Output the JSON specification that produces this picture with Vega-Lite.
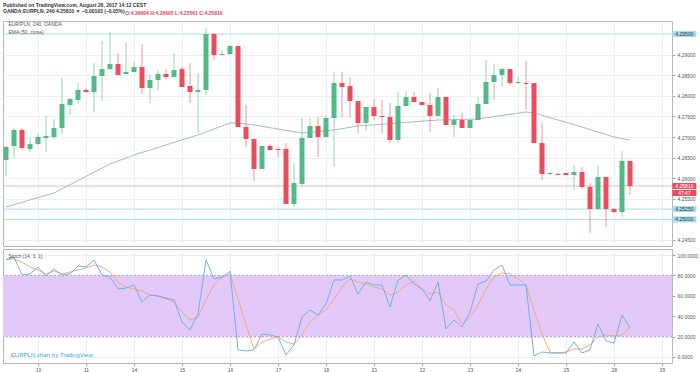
{
  "$schema": "https://vega.github.io/schema/vega-lite/v6.json",
  "background": "white",
  "padding": {"left": 2, "top": 2, "right": 2, "bottom": 1},
  "spacing": 1,
  "config": {
    "font": "Liberation Sans",
    "view": {"stroke": "#b4b8c0", "strokeWidth": 1},
    "scale": {"continuousPadding": 0},
    "axis": {"labelFont": "Liberation Sans", "labelColor": "#555", "tickColor": "#a0a4ac", "gridColor": "#eceff3", "domain": false, "title": null, "labelOverlap": false}
  },
  "title": {
    "text": "Published on TradingView.com, August 28, 2017 14:12 CEST",
    "subtitle": "OANDA:EURPLN, 240  4.25810 ▼ −0.00193 (−0.05%)",
    "anchor": "start",
    "frame": "group",
    "fontSize": 5,
    "fontWeight": "bold",
    "color": "#333",
    "subtitleFontSize": 5,
    "subtitleFontWeight": "bold",
    "subtitleColor": "#333",
    "subtitlePadding": 1.5,
    "offset": -3.5
  },
  "datasets": {
    "candles": [
      {"i":0,"open":4.26442,"high":4.26782,"low":4.26053,"close":4.26757},
      {"i":1,"open":4.26782,"high":4.27218,"low":4.26490,"close":4.27170},
      {"i":2,"open":4.27170,"high":4.27218,"low":4.26684,"close":4.26733},
      {"i":3,"open":4.26709,"high":4.26976,"low":4.26636,"close":4.26830},
      {"i":4,"open":4.26830,"high":4.27073,"low":4.26806,"close":4.27000},
      {"i":5,"open":4.26976,"high":4.27510,"low":4.26636,"close":4.27024},
      {"i":6,"open":4.27000,"high":4.27437,"low":4.26951,"close":4.27218},
      {"i":7,"open":4.27218,"high":4.28432,"low":4.27073,"close":4.27801},
      {"i":8,"open":4.27777,"high":4.27947,"low":4.27534,"close":4.27922},
      {"i":9,"open":4.27898,"high":4.28311,"low":4.27801,"close":4.28141},
      {"i":10,"open":4.28141,"high":4.28189,"low":4.28068,"close":4.28092},
      {"i":11,"open":4.28092,"high":4.28796,"low":4.27607,"close":4.28481},
      {"i":12,"open":4.28481,"high":4.29330,"low":4.27874,"close":4.28650},
      {"i":13,"open":4.28650,"high":4.29549,"low":4.28626,"close":4.28772},
      {"i":14,"open":4.28772,"high":4.29039,"low":4.28505,"close":4.28505},
      {"i":15,"open":4.28529,"high":4.29306,"low":4.28529,"close":4.28578},
      {"i":16,"open":4.28578,"high":4.28820,"low":4.28578,"close":4.28699},
      {"i":17,"open":4.28699,"high":4.29257,"low":4.28044,"close":4.28189},
      {"i":18,"open":4.28189,"high":4.28505,"low":4.27825,"close":4.28383},
      {"i":19,"open":4.28383,"high":4.28626,"low":4.28141,"close":4.28529},
      {"i":20,"open":4.28529,"high":4.28650,"low":4.28383,"close":4.28456},
      {"i":21,"open":4.28456,"high":4.29039,"low":4.28456,"close":4.28626},
      {"i":22,"open":4.28650,"high":4.28699,"low":4.28214,"close":4.28214},
      {"i":23,"open":4.28238,"high":4.28796,"low":4.27825,"close":4.28092},
      {"i":24,"open":4.28092,"high":4.28553,"low":4.27097,"close":4.28141},
      {"i":25,"open":4.28141,"high":4.29646,"low":4.28019,"close":4.29500},
      {"i":26,"open":4.29500,"high":4.29524,"low":4.28869,"close":4.28990},
      {"i":27,"open":4.28990,"high":4.29112,"low":4.28990,"close":4.29015},
      {"i":28,"open":4.29015,"high":4.29233,"low":4.28990,"close":4.29209},
      {"i":29,"open":4.29209,"high":4.29209,"low":4.27243,"close":4.27243},
      {"i":30,"open":4.27243,"high":4.27777,"low":4.26757,"close":4.26951},
      {"i":31,"open":4.26951,"high":4.26951,"low":4.25932,"close":4.26223},
      {"i":32,"open":4.26223,"high":4.26782,"low":4.26223,"close":4.26782},
      {"i":33,"open":4.26782,"high":4.26830,"low":4.26660,"close":4.26684},
      {"i":34,"open":4.26709,"high":4.26757,"low":4.26515,"close":4.26685},
      {"i":35,"open":4.26709,"high":4.26854,"low":4.25374,"close":4.25374},
      {"i":36,"open":4.25374,"high":4.26369,"low":4.25301,"close":4.25883},
      {"i":37,"open":4.25859,"high":4.27461,"low":4.25786,"close":4.26976},
      {"i":38,"open":4.26976,"high":4.27461,"low":4.26976,"close":4.27267},
      {"i":39,"open":4.27267,"high":4.27485,"low":4.26515,"close":4.27000},
      {"i":40,"open":4.27000,"high":4.27534,"low":4.27000,"close":4.27461},
      {"i":41,"open":4.27461,"high":4.28578,"low":4.26272,"close":4.28311},
      {"i":42,"open":4.28311,"high":4.28578,"low":4.27485,"close":4.28214},
      {"i":43,"open":4.28238,"high":4.28456,"low":4.27485,"close":4.27874},
      {"i":44,"open":4.27874,"high":4.27874,"low":4.27097,"close":4.27340},
      {"i":45,"open":4.27340,"high":4.27728,"low":4.27170,"close":4.27728},
      {"i":46,"open":4.27728,"high":4.27922,"low":4.27413,"close":4.27510},
      {"i":47,"open":4.27510,"high":4.27898,"low":4.27097,"close":4.27485},
      {"i":48,"open":4.27485,"high":4.27825,"low":4.26854,"close":4.26927},
      {"i":49,"open":4.26927,"high":4.28092,"low":4.26854,"close":4.27752},
      {"i":50,"open":4.27752,"high":4.28117,"low":4.27752,"close":4.27971},
      {"i":51,"open":4.27971,"high":4.28092,"low":4.27850,"close":4.27850},
      {"i":52,"open":4.27850,"high":4.27850,"low":4.27752,"close":4.27777},
      {"i":53,"open":4.27777,"high":4.28068,"low":4.27121,"close":4.27510},
      {"i":54,"open":4.27510,"high":4.28189,"low":4.27510,"close":4.27971},
      {"i":55,"open":4.27971,"high":4.27971,"low":4.27291,"close":4.27291},
      {"i":56,"open":4.27291,"high":4.27534,"low":4.27000,"close":4.27413},
      {"i":57,"open":4.27413,"high":4.27583,"low":4.27218,"close":4.27218},
      {"i":58,"open":4.27218,"high":4.27413,"low":4.27218,"close":4.27413},
      {"i":59,"open":4.27413,"high":4.27971,"low":4.27413,"close":4.27801},
      {"i":60,"open":4.27801,"high":4.28869,"low":4.27801,"close":4.28335},
      {"i":61,"open":4.28335,"high":4.28772,"low":4.27898,"close":4.28505},
      {"i":62,"open":4.28505,"high":4.28675,"low":4.28214,"close":4.28650},
      {"i":63,"open":4.28650,"high":4.28650,"low":4.28262,"close":4.28311},
      {"i":64,"open":4.28311,"high":4.28456,"low":4.28286,"close":4.28336},
      {"i":65,"open":4.28311,"high":4.28845,"low":4.27655,"close":4.28286},
      {"i":66,"open":4.28311,"high":4.28311,"low":4.26854,"close":4.26854},
      {"i":67,"open":4.26854,"high":4.27340,"low":4.25956,"close":4.26102},
      {"i":68,"open":4.26102,"high":4.26150,"low":4.26078,"close":4.26127},
      {"i":69,"open":4.26102,"high":4.26126,"low":4.26078,"close":4.26078},
      {"i":70,"open":4.26126,"high":4.26126,"low":4.26078,"close":4.26078},
      {"i":71,"open":4.26078,"high":4.26320,"low":4.25714,"close":4.26150},
      {"i":72,"open":4.26150,"high":4.26272,"low":4.25762,"close":4.25786},
      {"i":73,"open":4.25786,"high":4.25883,"low":4.24670,"close":4.25252},
      {"i":74,"open":4.25252,"high":4.26296,"low":4.25228,"close":4.26029},
      {"i":75,"open":4.26029,"high":4.26029,"low":4.24816,"close":4.25252},
      {"i":76,"open":4.25252,"high":4.25277,"low":4.25155,"close":4.25180},
      {"i":77,"open":4.25180,"high":4.26660,"low":4.25058,"close":4.26417},
      {"i":78,"open":4.26417,"high":4.26417,"low":4.25592,"close":4.25810}
    ],
    "ema": [
      {"i":0,"v":4.25301},{"i":6,"v":4.25641},{"i":13,"v":4.26345},{"i":16,"v":4.26563},
      {"i":24,"v":4.27049},{"i":28,"v":4.27340},{"i":29,"v":4.27340},{"i":31,"v":4.27291},
      {"i":37,"v":4.27097},{"i":41,"v":4.27170},{"i":44,"v":4.27267},{"i":49,"v":4.27340},
      {"i":54,"v":4.27413},{"i":59,"v":4.27437},{"i":65,"v":4.27607},{"i":66,"v":4.27583},
      {"i":72,"v":4.27243},{"i":76,"v":4.27000},{"i":78,"v":4.26927}
    ],
    "stoch": [
      {"i":0,"k":95.1,"d":96.1},{"i":1,"k":98.0,"d":96.1},{"i":2,"k":80.4,"d":93.1},{"i":3,"k":81.4,"d":88.2},
      {"i":4,"k":88.2,"d":85.3},{"i":5,"k":79.4,"d":81.4},{"i":6,"k":86.3,"d":84.3},{"i":7,"k":80.4,"d":81.4},
      {"i":8,"k":81.4,"d":83.3},{"i":9,"k":89.2,"d":85.3},{"i":10,"k":88.2,"d":87.3},{"i":11,"k":95.1,"d":90.2},
      {"i":12,"k":80.4,"d":88.2},{"i":13,"k":78.4,"d":83.3},{"i":14,"k":66.7,"d":73.5},{"i":15,"k":67.6,"d":68.6},
      {"i":16,"k":70.6,"d":66.7},{"i":17,"k":53.9,"d":64.7},{"i":18,"k":60.8,"d":60.8},{"i":19,"k":59.8,"d":59.8},
      {"i":20,"k":57.8,"d":56.9},{"i":21,"k":55.9,"d":53.9},{"i":22,"k":34.3,"d":44.1},{"i":23,"k":26.5,"d":36.3},
      {"i":24,"k":42.2,"d":39.2},{"i":25,"k":95.1,"d":55.9},{"i":26,"k":76.5,"d":70.6},{"i":27,"k":78.4,"d":78.4},
      {"i":28,"k":84.0,"d":81.4},{"i":29,"k":6.9,"d":56.9},{"i":30,"k":5.9,"d":31.4},{"i":31,"k":6.9,"d":7.8},
      {"i":32,"k":22.5,"d":14.7},{"i":33,"k":21.6,"d":17.6},{"i":34,"k":19.6,"d":19.6},{"i":35,"k":2.0,"d":14.7},
      {"i":36,"k":11.8,"d":12.7},{"i":37,"k":39.2,"d":21.6},{"i":38,"k":46.1,"d":34.3},{"i":39,"k":41.2,"d":41.2},
      {"i":40,"k":52.0,"d":46.1},{"i":41,"k":75.5,"d":56.9},{"i":42,"k":75.5,"d":68.6},{"i":43,"k":79.4,"d":76.5},
      {"i":44,"k":61.8,"d":73.5},{"i":45,"k":73.5,"d":71.6},{"i":46,"k":70.6,"d":68.6},{"i":47,"k":70.6,"d":66.7},
      {"i":48,"k":49.0,"d":60.8},{"i":49,"k":75.5,"d":63.7},{"i":50,"k":80.4,"d":70.6},{"i":51,"k":71.6,"d":74.5},
      {"i":52,"k":66.7,"d":66.7},{"i":53,"k":54.9,"d":61.8},{"i":54,"k":73.5,"d":63.7},{"i":55,"k":27.5,"d":51.0},
      {"i":56,"k":36.3,"d":46.1},{"i":57,"k":29.4,"d":32.4},{"i":58,"k":44.1,"d":39.2},{"i":59,"k":71.6,"d":51.0},
      {"i":60,"k":74.5,"d":66.7},{"i":61,"k":85.3,"d":78.4},{"i":62,"k":90.2,"d":82.4},{"i":63,"k":70.6,"d":81.4},
      {"i":64,"k":70.6,"d":76.5},{"i":65,"k":70.6,"d":70.6},{"i":66,"k":1.0,"d":46.1},{"i":67,"k":4.9,"d":22.5},
      {"i":68,"k":3.9,"d":4.9},{"i":69,"k":3.9,"d":3.9},{"i":70,"k":3.9,"d":4.9},{"i":71,"k":14.7,"d":7.8},
      {"i":72,"k":3.9,"d":7.8},{"i":73,"k":6.9,"d":11.8},{"i":74,"k":32.4,"d":19.6},{"i":75,"k":15.7,"d":21.6},
      {"i":76,"k":13.7,"d":20.6},{"i":77,"k":41.2,"d":21.6},{"i":78,"k":28.4,"d":28.4}
    ],
    "levels": [
      {"p":4.295,"kind":"line"},
      {"p":4.2525,"kind":"line"},
      {"p":4.25,"kind":"line"},
      {"p":4.2581,"kind":"last"}
    ],
    "tags": [
      {"p":4.295,"label":"4.29500","kind":"line"},
      {"p":4.2581,"label":"4.25810","kind":"last"},
      {"p":4.2564,"label":"47:47","kind":"last"},
      {"p":4.2525,"label":"4.25250","kind":"line"},
      {"p":4.25,"label":"4.25000","kind":"line"}
    ]
  },
  "vconcat": [
    {
      "width": 669,
      "height": 225,
      "layer": [
        {
          "data": {"name": "levels"},
          "mark": {"type": "rule", "strokeWidth": 1},
          "encoding": {
            "y": {"field": "p", "type": "quantitative", "title": null,
                  "scale": {"domain": [4.24354, 4.29816], "nice": false, "zero": false, "padding": 0},
                  "axis": {"orient": "right", "values": [4.245,4.255,4.26,4.265,4.27,4.275,4.28,4.285,4.29], "tickCount": 30, "format": ".5f", "labelFontSize": 5, "tickSize": 3, "labelPadding": 2, "grid": true, "labelOverlap": false, "title": null}},
            "color": {"field": "kind", "type": "nominal", "scale": {"domain": ["line","last"], "range": ["#a9dde8","#f2b6bc"]}, "legend": null}
          }
        },
        {
          "data": {"name": "ema"},
          "mark": {"type": "line", "strokeWidth": 0.8, "color": "#92a5c4"},
          "encoding": {
            "x": {"field": "i", "type": "quantitative", "title": null,
                  "scale": {"domain": [-0.375, 83.25], "nice": false, "zero": false, "padding": 0},
                  "axis": {"values": [4,10,16,22,28,34,40,46,52,58,64,70,76,82], "tickCount": 30, "labels": false, "ticks": false, "grid": true, "title": null}},
            "y": {"field": "v", "type": "quantitative", "title": null}
          }
        },
        {
          "data": {"name": "candles"},
          "mark": {"type": "rule", "strokeWidth": 1, "opacity": 0.6},
          "encoding": {
            "x": {"field": "i", "type": "quantitative", "title": null},
            "y": {"field": "low", "type": "quantitative", "title": null},
            "y2": {"field": "high"},
            "color": {"condition": {"test": "datum.close >= datum.open", "value": "#53b987"}, "value": "#eb4d5c"}
          }
        },
        {
          "data": {"name": "candles"},
          "mark": {"type": "bar", "width": 5},
          "encoding": {
            "x": {"field": "i", "type": "quantitative", "title": null},
            "y": {"field": "open", "type": "quantitative", "title": null},
            "y2": {"field": "close"},
            "color": {"condition": {"test": "datum.close >= datum.open", "value": "#53b987"}, "value": "#eb4d5c"}
          }
        },
        {
          "data": {"name": "tags"},
          "mark": {"type": "bar", "height": 6, "clip": false},
          "encoding": {
            "x": {"datum": 83.3, "type": "quantitative"},
            "x2": {"datum": 86.3},
            "y": {"field": "p", "type": "quantitative", "title": null},
            "color": {"condition": {"test": "datum.kind == 'last'", "value": "#eb4d5c"}, "value": "#a9dbe8"}
          }
        },
        {
          "data": {"name": "tags"},
          "mark": {"type": "text", "fontSize": 5, "align": "center", "baseline": "middle", "clip": false},
          "encoding": {
            "x": {"datum": 84.8, "type": "quantitative"},
            "y": {"field": "p", "type": "quantitative", "title": null},
            "text": {"field": "label"},
            "color": {"condition": {"test": "datum.kind == 'last'", "value": "#ffffff"}, "value": "#2a3a44"}
          }
        },
        {
          "data": {"values": [{}]},
          "mark": {"type": "text", "fontSize": 5, "align": "left", "baseline": "middle", "color": "#555"},
          "encoding": {
            "x": {"datum": 0.3, "type": "quantitative"},
            "y": {"datum": 4.29743, "type": "quantitative"},
            "text": {"value": "EUR/PLN, 240, OANDA"}
          }
        },
        {
          "data": {"values": [{}]},
          "mark": {"type": "text", "fontSize": 5, "align": "left", "baseline": "middle", "color": "#555"},
          "encoding": {
            "x": {"datum": 0.3, "type": "quantitative"},
            "y": {"datum": 4.29549, "type": "quantitative"},
            "text": {"value": "EMA (50, close)"}
          }
        },
        {
          "data": {"values": [{}]},
          "mark": {"type": "text", "fontSize": 5, "fontWeight": "bold", "align": "left", "baseline": "bottom", "dy": -5, "color": "#e0414f", "clip": false},
          "encoding": {
            "x": {"datum": 14.9, "type": "quantitative"},
            "y": {"datum": 4.29816, "type": "quantitative"},
            "text": {"value": "O:4.26604  H:4.26605  L:4.25561  C:4.25810"}
          }
        }
      ]
    },
    {
      "width": 669,
      "height": 114,
      "layer": [
        {
          "data": {"values": [{}]},
          "mark": {"type": "rect", "color": "#e3c9fa"},
          "encoding": {
            "y": {"datum": 20, "type": "quantitative", "scale": {"domain": [-5.9, 105.9], "nice": false, "zero": false, "padding": 0},
                  "axis": {"orient": "right", "values": [0,20,40,60,80,100], "tickCount": 30, "format": ".4f", "labelFontSize": 5, "tickSize": 3, "labelPadding": 2, "grid": true, "labelOverlap": false, "title": null}},
            "y2": {"datum": 80}
          }
        },
        {
          "data": {"values": [{"v": 20}, {"v": 80}]},
          "mark": {"type": "rule", "strokeDash": [2, 2], "strokeWidth": 0.8, "color": "#b387de"},
          "encoding": {
            "y": {"field": "v", "type": "quantitative", "title": null}
          }
        },
        {
          "data": {"name": "stoch"},
          "mark": {"type": "line", "strokeWidth": 0.9, "color": "#f5a466"},
          "encoding": {
            "x": {"field": "i", "type": "quantitative", "title": null,
                  "scale": {"domain": [-0.375, 83.25], "nice": false, "zero": false, "padding": 0},
                  "axis": {"values": [4,10,16,22,28,34,40,46,52,58,64,70,76,82], "tickCount": 30,
                           "labelExpr": "['10','11','14','15','16','17','18','21','22','23','24','25','28','29'][round((datum.value-4)/6)]",
                           "labelFontSize": 5, "tickSize": 3, "labelPadding": 1, "grid": true, "labelOverlap": false, "title": null}},
            "y": {"field": "d", "type": "quantitative", "title": null}
          }
        },
        {
          "data": {"name": "stoch"},
          "mark": {"type": "line", "strokeWidth": 0.9, "color": "#5fa9ee"},
          "encoding": {
            "x": {"field": "i", "type": "quantitative", "title": null},
            "y": {"field": "k", "type": "quantitative", "title": null}
          }
        },
        {
          "data": {"values": [{}]},
          "mark": {"type": "text", "fontSize": 5, "align": "left", "baseline": "middle", "color": "#555"},
          "encoding": {
            "x": {"datum": 0.3, "type": "quantitative"},
            "y": {"datum": 99, "type": "quantitative"},
            "text": {"value": "Stoch (14, 3, 1)"}
          }
        },
        {
          "data": {"values": [{}]},
          "mark": {"type": "text", "fontSize": 6, "align": "left", "baseline": "middle", "color": "#45a7e0"},
          "encoding": {
            "x": {"datum": 0.6, "type": "quantitative"},
            "y": {"datum": 2, "type": "quantitative"},
            "text": {"value": "EURPLN chart by TradingView"}
          }
        }
      ]
    }
  ]
}
